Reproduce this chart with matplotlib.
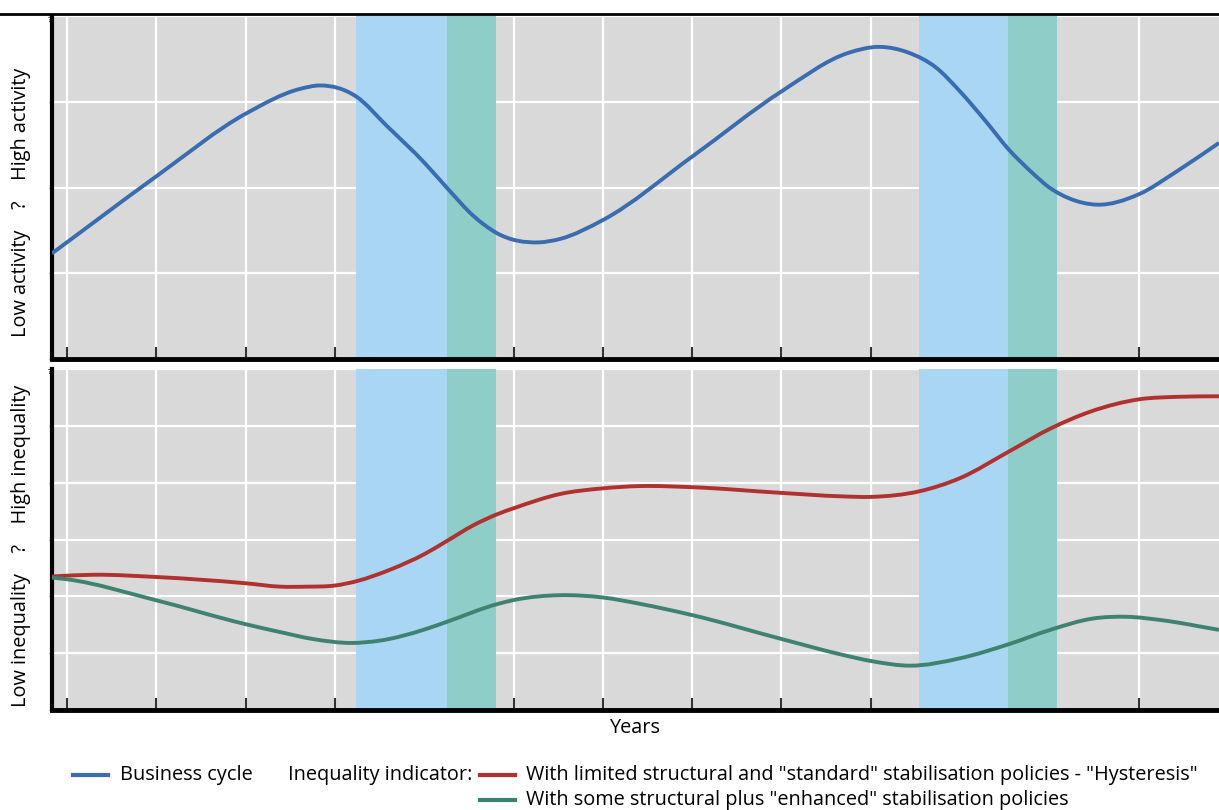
import matplotlib
matplotlib.use("Agg")
import matplotlib.pyplot as plt
from matplotlib.lines import Line2D
from matplotlib.path import Path
from matplotlib.patches import PathPatch

# ---------------- data ----------------
cycle_x = [-0.17, 1, 2, 2.61, 2.83, 3.24, 3.58, 4.01, 4.26, 4.55, 4.81, 5.28, 5.52, 6, 7, 8,
           8.75, 9.09, 9.43, 9.73, 10, 10.29, 10.54, 10.8, 11, 11.23, 11.53, 12, 12.43, 12.9]
cycle_y = [1.23, 2.13, 2.86, 3.15, 3.19, 3.06, 2.72, 2.28, 1.99, 1.67, 1.47, 1.36, 1.40, 1.62,
           2.36, 3.12, 3.57, 3.64, 3.57, 3.40, 3.12, 2.77, 2.45, 2.18, 2.00, 1.87, 1.80, 1.92,
           2.19, 2.52]

hyst_x = [-0.17, 0.3, 1, 2, 2.39, 2.68, 3.0, 3.25, 3.62, 4.01, 4.25, 4.55, 4.81, 5.02, 5.52,
          6.0, 6.41, 7, 8, 8.66, 9.01, 9.55, 10.0, 10.55, 11.01, 11.46, 12.02, 12.43, 12.9]
hyst_y = [2.35, 2.38, 2.34, 2.23, 2.17, 2.17, 2.19, 2.27, 2.47, 2.75, 2.97, 3.25, 3.44, 3.56,
          3.80, 3.90, 3.94, 3.92, 3.82, 3.76, 3.75, 3.85, 4.08, 4.55, 4.95, 5.25, 5.47, 5.51, 5.52]

enh_x = [-0.17, 0, 1, 2, 2.39, 2.75, 3.19, 3.5, 4.01, 4.25, 4.81, 5.02, 5.52, 6.0, 6.41, 7, 8,
         8.66, 9.01, 9.44, 10.0, 10.55, 11.01, 11.49, 11.87, 12.26, 12.9]
enh_y = [2.33, 2.30, 1.93, 1.51, 1.37, 1.25, 1.18, 1.22, 1.42, 1.55, 1.86, 1.94, 2.02, 1.98,
         1.87, 1.67, 1.25, 0.98, 0.86, 0.78, 0.91, 1.16, 1.41, 1.61, 1.64, 1.58, 1.41]

# shaded periods: (start, end)
downturn_periods = [(3.24, 4.25), (9.54, 10.54)]
recovery_periods = [(4.25, 4.80), (10.54, 11.09)]

labels = ["Business cycle",
          'With limited structural and "standard" stabilisation policies - "Hysteresis"',
          'With some structural plus "enhanced" stabilisation policies']

# ---------------- styling ----------------
plt.rcParams['font.family'] = ['Open Sans', 'DejaVu Sans']
BLUE = '#3a6cb0'
RED = '#b0312f'
GREEN = '#3f8270'
LBLUE = '#a8d6f3'
TEAL = '#8fcdc8'
BG = '#d9d9d9'

W, H = 1219, 810
fig = plt.figure(figsize=(W / 100, H / 100), dpi=100)

def ax_rect(left, top, right, bottom):
    return [left / W, 1 - bottom / H, (right - left) / W, (bottom - top) / H]

ax1 = fig.add_axes(ax_rect(52, 16, 1219, 359))
ax2 = fig.add_axes(ax_rect(52, 369, 1219, 710))

for ax, ymax in ((ax1, 4), (ax2, 6)):
    ax.set_facecolor(BG)
    ax.set_xlim(-0.168, 12.9)
    ax.set_ylim(0, ymax)
    ax.set_xticks(range(0, 13))
    ax.set_yticks(range(0, ymax + 1))
    ax.grid(True, color='white', linewidth=1.6)
    ax.set_axisbelow(True)
    for s in ('top', 'right'):
        ax.spines[s].set_visible(False)
    ax.spines['left'].set_linewidth(3)
    ax.spines['left'].set_color('black')
    ax.spines['bottom'].set_linewidth(3.5)
    ax.spines['bottom'].set_color('black')
    ax.tick_params(axis='x', direction='in', length=9, width=1.5, color='#333333',
                   labelbottom=False)
    ax.tick_params(axis='y', direction='out', length=2, width=0.8, color='#888888',
                   labelleft=False)
    for a, b in downturn_periods:
        ax.axvspan(a, b, color=LBLUE, zorder=1, lw=0)
    for a, b in recovery_periods:
        ax.axvspan(a, b, color=TEAL, zorder=1, lw=0)


def smooth_line(ax, xs, ys, color):
    """Draw a smooth curve through the read points (cubic Hermite as a Bezier path)."""
    n = len(xs)
    h = [xs[i + 1] - xs[i] for i in range(n - 1)]
    s = [(ys[i + 1] - ys[i]) / h[i] for i in range(n - 1)]
    m = [s[0]]
    for i in range(1, n - 1):
        m.append((h[i] * s[i - 1] + h[i - 1] * s[i]) / (h[i - 1] + h[i]))
    m.append(s[-1])
    verts = [(xs[0], ys[0])]
    codes = [Path.MOVETO]
    for i in range(n - 1):
        d = h[i]
        verts += [(xs[i] + d / 3, ys[i] + m[i] * d / 3),
                  (xs[i + 1] - d / 3, ys[i + 1] - m[i + 1] * d / 3),
                  (xs[i + 1], ys[i + 1])]
        codes += [Path.CURVE4] * 3
    patch = PathPatch(Path(verts, codes), facecolor='none', edgecolor=color, lw=2.8,
                      zorder=3, joinstyle='round', capstyle='butt')
    ax.add_patch(patch)
    ax.plot(xs, ys, color=color, alpha=0)


smooth_line(ax1, cycle_x, cycle_y, BLUE)
smooth_line(ax2, hyst_x, hyst_y, RED)
smooth_line(ax2, enh_x, enh_y, GREEN)

fs = 14.3
ax2.set_xlabel("Years", fontsize=fs, labelpad=6)

fig.text(21 / W, 1 - 202 / H, "Low activity    ?    High activity", rotation=90,
         ha='center', va='center', fontsize=fs)
fig.text(21 / W, 1 - 546 / H, "Low inequality    ?    High inequality", rotation=90,
         ha='center', va='center', fontsize=fs)
fig.text(50 / W, 1 - 20 / H, "?", fontsize=6, ha='center', va='center')
fig.text(50 / W, 1 - 373 / H, "?", fontsize=6, ha='center', va='center')

# top rule
fig.add_artist(Line2D([0, 1], [1 - 14 / H, 1 - 14 / H], color='black', lw=2,
                      transform=fig.transFigure))

# legend
def handle(x0, x1, y, c):
    fig.add_artist(Line2D([x0 / W, x1 / W], [1 - y / H, 1 - y / H], color=c, lw=3,
                          transform=fig.transFigure))

handle(73, 108, 775, BLUE)
fig.text(120 / W, 1 - 775 / H, labels[0], fontsize=fs, va='center', ha='left')
fig.text(288 / W, 1 - 775 / H, "Inequality indicator:", fontsize=fs, va='center', ha='left')
handle(480, 515, 775, RED)
fig.text(526 / W, 1 - 775 / H, labels[1], fontsize=fs, va='center', ha='left')
handle(480, 515, 800, GREEN)
fig.text(526 / W, 1 - 800 / H, labels[2], fontsize=fs, va='center', ha='left')

fig.savefig("out.png", dpi=100)
